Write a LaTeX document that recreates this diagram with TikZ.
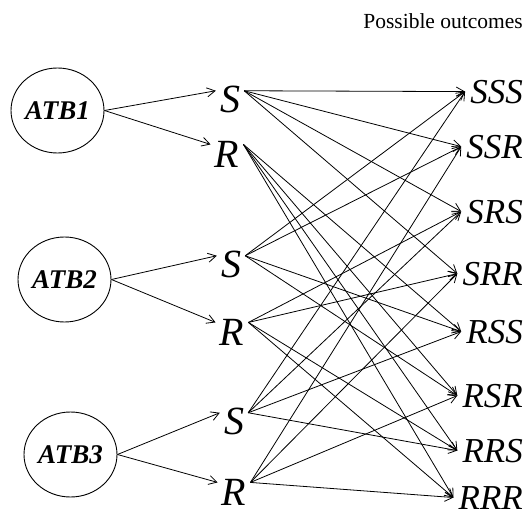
\documentclass[tikz,border=0pt]{standalone}
\usepackage{fontspec}
\setmainfont{Liberation Serif}
\usetikzlibrary{shapes.geometric,arrows.meta}

\tikzset{
  atb/.style={ellipse, draw, line width=0.9pt, minimum width=93pt, minimum height=85pt,
    inner sep=0pt, font=\fontsize{27}{30}\selectfont\bfseries\itshape},
  branch/.style={anchor=base, inner xsep=4pt, inner ysep=1pt,
    font=\fontsize{40}{44}\selectfont\itshape},
  outcome/.style={anchor=base east, inner xsep=5pt, inner ysep=0pt,
    font=\fontsize{35}{38}\selectfont\itshape},
  arr/.style={-{Straight Barb[length=8pt,width=9pt]}, line width=0.8pt}
}

\begin{document}
\begin{tikzpicture}[x=1pt,y=-1pt]
    \useasboundingbox (0,0) rectangle (525,514);
    \draw (523,28) node[anchor=base east, inner sep=0pt, font=\fontsize{21.5}{24}\selectfont] (title) {Possible outcomes};
    % the three ATB circles
    \draw (57.5,110.5) node[atb] (atb1) {ATB1};
    \draw (64.5,279.5) node[atb] (atb2) {ATB2};
    \draw (70.5,454.5) node[atb] (atb3) {ATB3};
    % S / R per ATB
    \draw (230,112) node[branch] (s1) {S};
    \draw (227,167) node[branch] (r1) {R};
    \draw (231,277) node[branch] (s2) {S};
    \draw (232,345) node[branch] (r2) {R};
    \draw (234,434) node[branch] (s3) {S};
    \draw (234,505) node[branch] (r3) {R};
    % outcomes
    \draw (528,103) node[outcome] (sss) {SSS};
    \draw (528,158) node[outcome] (ssr) {SSR};
    \draw (528,223) node[outcome] (srs) {SRS};
    \draw (528,285) node[outcome] (srr) {SRR};
    \draw (528,343) node[outcome] (rss) {RSS};
    \draw (528,407) node[outcome] (rsr) {RSR};
    \draw (528,462) node[outcome] (rrs) {RRS};
    \draw (528,509) node[outcome] (rrr) {RRR};
    % ATB -> S, R
    \draw (atb1.east) edge[arr] (s1.150) edge[arr] (r1.150);
    \draw (atb2.east) edge[arr] (s2.150) edge[arr] (r2.150);
    \draw (atb3.east) edge[arr] (s3.150) edge[arr] (r3.150);
    % S, R -> outcomes
    \draw (s1.30) edge[arr] (sss.west) edge[arr] (ssr.west) edge[arr] (srs.west) edge[arr] (srr.west);
    \draw (r1.30) edge[arr] (rss.west) edge[arr] (rsr.west) edge[arr] (rrs.west) edge[arr] (rrr.west);
    \draw (s2.30) edge[arr] (sss.west) edge[arr] (ssr.west) edge[arr] (rss.west) edge[arr] (rsr.west);
    \draw (r2.30) edge[arr] (srs.west) edge[arr] (srr.west) edge[arr] (rrs.west) edge[arr] (rrr.west);
    \draw (s3.30) edge[arr] (sss.west) edge[arr] (srs.west) edge[arr] (rss.west) edge[arr] (rrs.west);
    \draw (r3.30) edge[arr] (ssr.west) edge[arr] (srr.west) edge[arr] (rsr.west) edge[arr] (rrr.west);
\end{tikzpicture}
\end{document}
